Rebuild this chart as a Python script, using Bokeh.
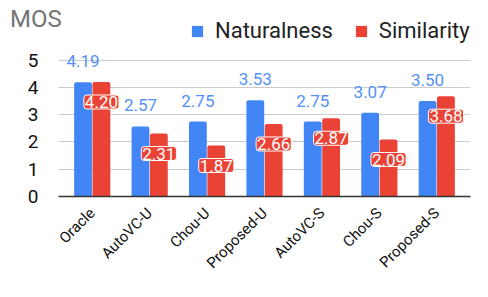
from math import pi
from bokeh.plotting import figure
from bokeh.models import (ColumnDataSource, FactorRange, Range1d, FixedTicker, Legend,
                          LegendItem)
from bokeh.transform import dodge
from bokeh.core.properties import value
from bokeh.embed import file_html
from bokeh.resources import INLINE

categories = ["Oracle", "AutoVC-U", "Chou-U", "Proposed-U", "AutoVC-S", "Chou-S", "Proposed-S"]
naturalness = [4.19, 2.57, 2.75, 3.53, 2.75, 3.07, 3.50]
similarity = [4.20, 2.31, 1.87, 2.66, 2.87, 2.09, 3.68]
y_ticks = [0, 1, 2, 3, 4, 5]
axis_title = "MOS"

BLUE = "#4285F4"
RED = "#EA4335"

src = ColumnDataSource(dict(
    cat=categories,
    nat=naturalness,
    sim=similarity,
    nat_lbl=[f"{v:.2f}" for v in naturalness],
    sim_lbl=[f"{v:.2f}" for v in similarity],
))

p = figure(
    title=None,
    x_range=FactorRange(factors=categories, range_padding=0.025),
    y_range=Range1d(0, 6.53),
    width=472, height=281,
    output_backend="svg", toolbar_location=None,
    min_border_left=58, min_border_right=2, min_border_top=18, min_border_bottom=70,
)
p.outline_line_color = None

nat_r = p.vbar(x=dodge("cat", -0.16, range=p.x_range), top="nat", width=0.31, source=src,
               fill_color=BLUE, line_color=None, border_radius=(2, 2, 0, 0))
sim_r = p.vbar(x=dodge("cat", 0.16, range=p.x_range), top="sim", width=0.31, source=src,
               fill_color=RED, line_color=None, border_radius=(2, 2, 0, 0))

p.text(x=dodge("cat", -0.16, range=p.x_range), y="nat", text="nat_lbl", source=src,
       text_align="center", text_baseline="alphabetic", y_offset=-21,
       text_font=value("Roboto"), text_font_size="17px", text_color="#5391f5")

p.text(x=dodge("cat", 0.16, range=p.x_range), y="sim", text="sim_lbl", source=src,
       text_align="center", text_baseline="alphabetic", y_offset=20,
       text_font=value("Roboto"), text_font_size="17px", text_color="white",
       background_fill_color=RED, border_line_color="white", border_line_width=1,
       padding=1, border_radius=3)

legend = Legend(items=[LegendItem(label="Naturalness", renderers=[nat_r]),
                       LegendItem(label="Similarity", renderers=[sim_r])],
                orientation="horizontal", location=(132, 153),
                glyph_width=14, glyph_height=14, label_standoff=11, spacing=21,
                padding=0, margin=0, border_line_color=None, background_fill_alpha=0,
                label_text_font="Roboto", label_text_font_size="22px", label_text_color="#222222")
p.add_layout(legend)

p.yaxis.axis_label = axis_title
p.yaxis.axis_label_orientation = "horizontal"
p.yaxis.axis_label_align = "end"
p.yaxis.axis_label_standoff = -37
p.yaxis.axis_label_text_font = "Roboto"
p.yaxis.axis_label_text_font_size = "24px"
p.yaxis.axis_label_text_font_style = "normal"
p.yaxis.axis_label_text_color = "#757575"

p.yaxis.ticker = FixedTicker(ticks=y_ticks)
p.yaxis.axis_line_color = None
p.yaxis.major_tick_line_color = None
p.yaxis.minor_tick_line_color = None
p.yaxis.major_label_text_font = "Roboto"
p.yaxis.major_label_text_font_size = "19px"
p.yaxis.major_label_text_color = "#111111"
p.yaxis.major_label_standoff = 14

p.xaxis.axis_line_color = "#333333"
p.xaxis.axis_line_width = 1.5
p.xaxis.major_tick_line_color = None
p.xaxis.major_label_orientation = pi / 4
p.xaxis.major_label_text_font = "Roboto"
p.xaxis.major_label_text_font_size = "15px"
p.xaxis.major_label_text_color = "#111111"
p.xaxis.major_label_standoff = 8

p.xgrid.grid_line_color = None
p.ygrid.grid_line_color = "#cccccc"

open("out.html", "w").write(file_html(p, INLINE))
